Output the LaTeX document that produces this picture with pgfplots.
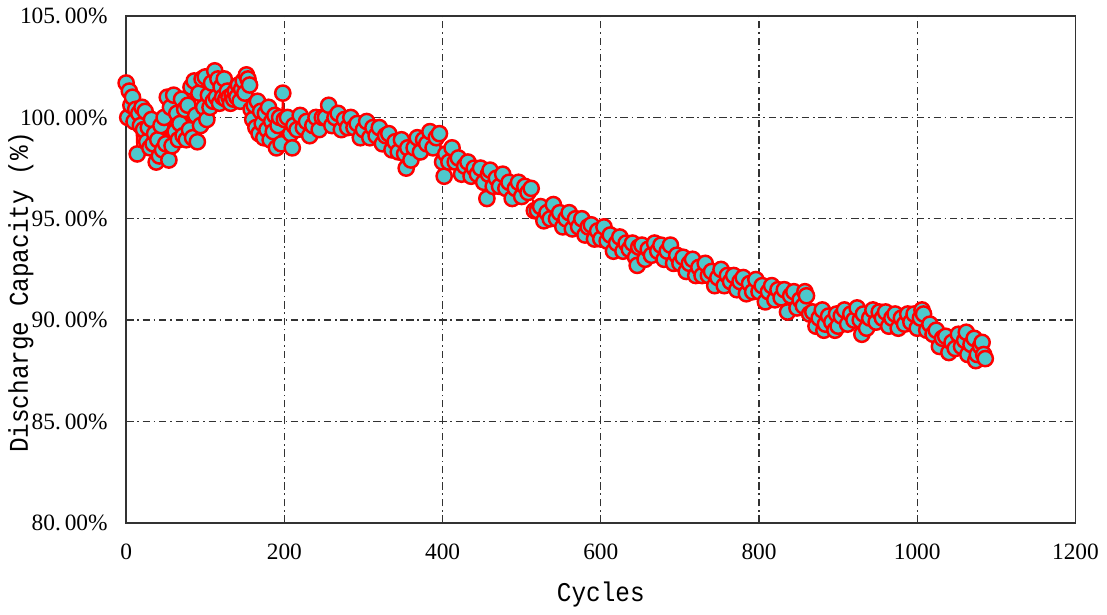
\documentclass[border=0pt]{standalone}
\usepackage{fontspec}
\setmainfont{Liberation Serif}
\newfontfamily\labfont[FakeStretch=0.9]{Liberation Mono}
\usepackage{pgfplots}
\pgfplotsset{compat=1.18}
\usepackage{pgfplotstable}
\definecolor{dotfill}{RGB}{78,200,204}
\definecolor{gridc}{RGB}{50,50,50}

% capacity retention
\pgfplotstableread{
c v
0 101.7
2 100.0
4 101.3
6 100.6
8 101.0
10 99.8
12 100.4
14 98.2
16 100.2
18 99.6
20 100.5
22 99.4
24 100.3
26 98.8
28 99.5
30 98.5
32 99.9
34 98.7
36 99.2
38 97.8
40 98.9
42 98.1
44 99.6
46 98.4
48 100.0
50 98.7
52 101.0
54 97.9
56 100.5
58 98.6
60 101.1
62 99.3
64 100.2
66 98.9
68 99.7
70 100.9
72 99.1
74 100.4
76 98.9
78 100.6
80 99.4
82 101.5
84 99.0
86 101.8
88 100.1
90 98.8
92 101.2
94 99.6
96 101.9
98 100.5
100 102.0
102 99.9
104 101.1
106 100.5
108 101.7
110 100.8
112 102.3
114 101.0
116 101.9
118 100.7
120 101.5
122 101.0
124 101.9
126 100.9
128 101.3
130 101.0
132 100.7
134 101.1
136 100.9
138 101.3
140 101.0
142 101.6
144 100.8
146 101.4
148 101.8
150 101.2
152 102.1
154 101.9
156 101.6
158 100.4
160 99.9
162 100.6
164 99.5
166 100.8
168 99.2
170 100.3
172 99.7
174 99.0
176 100.2
178 99.4
180 100.5
182 98.9
184 99.8
186 99.3
188 100.1
190 98.5
192 99.6
194 100.0
196 98.7
198 101.2
200 99.9
204 100.0
208 99.2
210 98.5
212 99.6
216 99.4
220 100.1
224 99.5
228 99.8
232 99.1
236 99.6
240 100.0
244 99.4
248 100.0
252 100.0
256 100.6
260 99.6
264 100.0
268 100.2
272 99.4
276 99.9
280 99.5
284 100.0
288 99.5
292 99.7
296 99.0
300 99.4
304 99.8
308 99.0
312 99.5
316 99.1
320 99.5
324 98.7
328 99.1
332 99.2
336 98.4
340 98.8
344 98.3
348 98.9
352 98.2
354 97.5
356 98.5
360 97.9
364 98.5
368 99.0
372 98.3
376 98.9
380 98.7
384 99.3
388 98.5
392 99.0
396 99.2
400 97.8
402 97.1
404 98.2
408 97.8
412 98.5
416 97.8
420 98.0
424 97.2
428 97.6
432 97.8
436 97.1
440 97.5
444 97.2
448 97.5
452 96.8
456 96.0
458 97.2
460 97.4
464 96.6
468 97.0
472 96.6
476 97.2
480 96.5
484 96.8
488 96.0
492 96.5
496 96.8
500 96.1
504 96.6
508 96.3
512 96.5
516 95.4
520 95.4
524 95.6
528 94.9
532 95.3
536 95.0
540 95.7
544 95.0
548 95.3
552 94.6
556 95.0
560 95.3
564 94.5
568 95.0
572 94.6
576 95.0
580 94.2
584 94.6
588 94.7
592 94.0
596 94.4
600 94.0
604 94.6
608 93.9
612 94.2
616 93.4
620 93.8
624 94.1
628 93.4
632 93.8
636 93.5
640 93.8
644 93.1
646 92.7
648 93.6
652 93.7
656 93.0
660 93.5
664 93.2
668 93.8
672 93.4
676 93.7
680 93.0
684 93.4
688 93.7
692 92.8
696 93.2
700 92.8
704 93.1
708 92.4
712 92.8
716 93.0
720 92.2
724 92.6
728 92.2
732 92.8
736 92.2
740 92.4
744 91.7
748 92.1
752 92.5
756 91.7
760 92.2
764 91.9
768 92.2
772 91.5
776 91.9
780 92.1
784 91.3
788 91.8
792 91.4
796 92.0
800 91.4
804 91.7
808 90.9
812 91.4
816 91.7
820 91.0
824 91.5
828 91.1
832 91.5
836 90.4
840 91.2
844 91.4
848 90.6
852 91.0
856 90.7
858 91.4
860 91.2
864 90.3
868 90.4
872 89.7
876 90.1
880 90.5
882 89.5
884 89.8
888 90.2
892 89.9
896 89.5
898 90.3
900 89.7
904 90.2
908 90.5
912 89.8
916 90.3
920 90.0
924 90.6
928 90.0
930 89.3
932 90.3
936 89.6
940 90.1
944 90.5
948 89.9
952 90.4
956 90.1
960 90.4
964 89.7
968 90.1
972 90.3
976 89.6
980 90.1
984 89.8
988 90.3
992 89.9
996 90.3
1000 89.6
1004 90.1
1006 90.5
1008 90.3
1012 89.5
1016 89.8
1020 89.3
1024 89.5
1028 88.7
1032 89.1
1036 89.2
1040 88.4
1044 88.9
1048 88.6
1052 89.3
1056 88.7
1060 89.0
1062 89.4
1064 88.3
1068 88.8
1072 89.1
1074 88.0
1076 88.3
1080 88.7
1082 88.9
1084 88.3
1086 88.1
}\capdata

\begin{document}
\begin{tikzpicture}
\begin{axis}[
    scale only axis,
    width=386pt, height=206pt,
    xmin=0, xmax=1200, ymin=80, ymax=105,
    xtick={0,200,...,1200},
    ytick={80,85,...,105},
    yticklabels={80.\,00\%,85.\,00\%,90.\,00\%,95.\,00\%,100.\,00\%,105.\,00\%},
    /pgf/number format/assume math mode=true,
    /pgf/number format/1000 sep={},
    tick label style={font=\fontsize{9.5}{11}\selectfont},
    xticklabel style={yshift=-5pt},
    yticklabel style={xshift=-4pt},
    tick style={draw=none},
    grid=major,
    major grid style={gridc, line width=0.55pt, dash pattern=on 3pt off 1.5pt on 0.7pt off 1.5pt},
    axis line style={gridc, line width=0.7pt},
    xlabel={\labfont Cycles},
    ylabel={\labfont Discharge Capacity (\%)},
    label style={font=\fontsize{11}{13}\selectfont},
    xlabel style={at={(axis description cs:0.5,-0.141)}, anchor=center},
    ylabel style={at={(axis description cs:-0.111,0.455)}, anchor=center},
]
\addplot[red, line width=0.7pt, mark=*, mark size=3.1pt,
    mark options={solid, fill=dotfill, draw=red, line width=1pt}]
    table[x=c, y=v] {\capdata};
\end{axis}
\end{tikzpicture}
\end{document}
